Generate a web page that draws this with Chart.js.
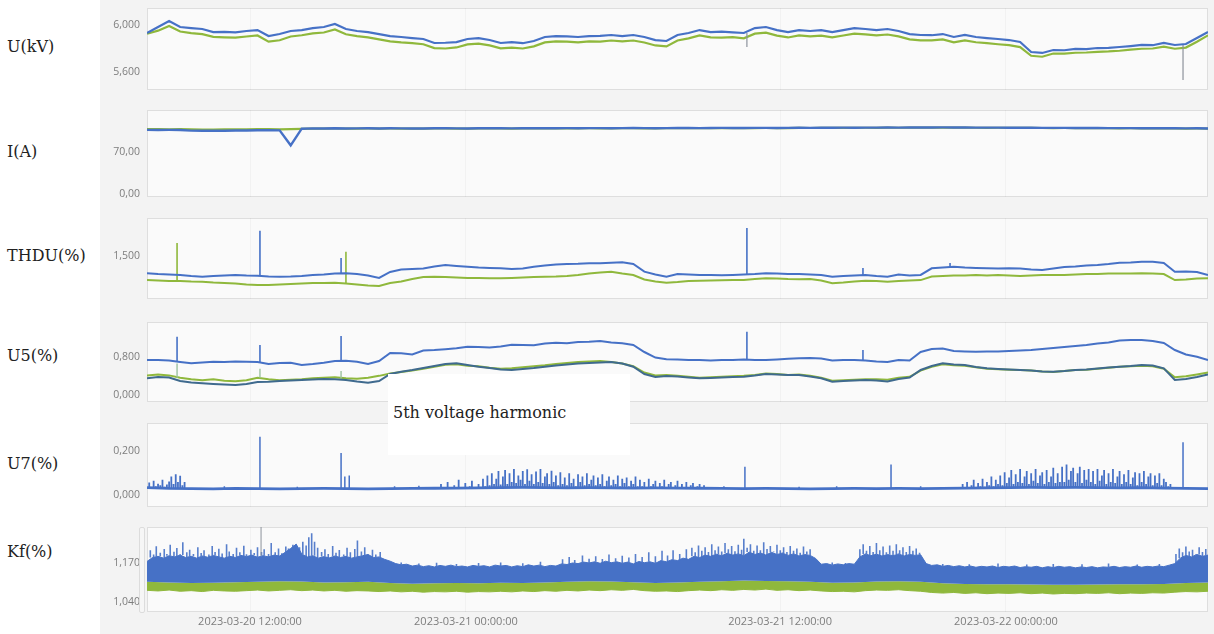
<!DOCTYPE html>
<html>
<head>
<meta charset="utf-8">
<script src="https://cdn.jsdelivr.net/npm/chart.js@4.4.1/dist/chart.umd.min.js"></script>
<style>
  html, body { margin: 0; padding: 0; background: #fff; }
  #wrap { position: relative; width: 1214px; height: 634px; overflow: hidden; background: #fff; }
  #board { position: absolute; left: 100px; top: 0; width: 1114px; height: 634px; background: #f3f3f3; }
  #wrap canvas { position: absolute; left: 100px; }
  .lbl { position: absolute; left: 7px; font-family: "DejaVu Serif", serif; font-size: 16px; line-height: 20px; color: #222; white-space: nowrap; }
  #note { position: absolute; left: 388px; top: 374px; width: 242px; height: 81px; background: #fff; z-index: 5; }
  #note span { position: absolute; left: 5px; top: 29px; font-family: "DejaVu Serif", serif; font-size: 16px; line-height: 20px; color: #222; white-space: nowrap; }
  #slider { position: absolute; left: 139px; top: 527px; width: 4px; height: 84px; border: 1px solid #dcdcdc; background: #f6f6f6; border-radius: 2px; z-index: 4; }
</style>
</head>
<body>
<div id="wrap">
  <div id="board"></div>
  <canvas id="cU"></canvas>
  <canvas id="cI"></canvas>
  <canvas id="cTHDU"></canvas>
  <canvas id="cU5"></canvas>
  <canvas id="cU7"></canvas>
  <canvas id="cKf"></canvas>
  <div id="slider"></div>
  <div class="lbl" style="top:37px">U(kV)</div>
  <div class="lbl" style="top:142px">I(A)</div>
  <div class="lbl" style="top:246px">THDU(%)</div>
  <div class="lbl" style="top:346px">U5(%)</div>
  <div class="lbl" style="top:454px">U7(%)</div>
  <div class="lbl" style="top:542px">Kf(%)</div>
  <div id="note"><span>5th voltage harmonic</span></div>
</div>
<script>
// ---- record axis: 48 half-hour blocks, labelled at the recorded timestamps ----
const spanUnits = 48;
const tickAt = [4.66, 14.43, 28.64, 38.86];
const tickLabels = ['2023-03-20 12:00:00', '2023-03-21 00:00:00', '2023-03-21 12:00:00', '2023-03-22 00:00:00'];

// ---- U(kV) ----
const uBlue = [5.932,5.983,6.034,5.983,5.974,5.966,5.940,5.942,5.938,5.949,
  5.957,5.906,5.923,5.949,5.957,5.974,5.983,6.009,5.966,5.949,
  5.940,5.923,5.906,5.898,5.889,5.881,5.847,5.849,5.855,5.881,
  5.889,5.872,5.847,5.855,5.845,5.864,5.898,5.906,5.904,5.898,
  5.906,5.908,5.915,5.906,5.915,5.898,5.872,5.864,5.915,5.932,
  5.957,5.940,5.943,5.938,5.932,5.974,5.983,5.957,5.940,5.957,
  5.949,5.957,5.940,5.957,5.974,5.966,5.957,5.966,5.949,5.923,
  5.915,5.913,5.923,5.898,5.915,5.898,5.889,5.881,5.872,5.855,
  5.770,5.762,5.787,5.785,5.796,5.794,5.804,5.806,5.813,5.821,
  5.830,5.828,5.847,5.830,5.838,5.889,5.940];
const uGreen = [5.925,5.952,5.992,5.945,5.931,5.922,5.899,5.895,5.893,5.902,
  5.911,5.858,5.870,5.902,5.913,5.929,5.936,5.962,5.921,5.905,
  5.894,5.878,5.861,5.852,5.846,5.836,5.803,5.800,5.809,5.835,
  5.842,5.827,5.801,5.808,5.800,5.818,5.852,5.861,5.859,5.852,
  5.860,5.858,5.868,5.861,5.868,5.851,5.826,5.818,5.868,5.886,
  5.911,5.895,5.893,5.896,5.887,5.926,5.935,5.910,5.894,5.912,
  5.903,5.910,5.894,5.911,5.927,5.920,5.912,5.919,5.903,5.878,
  5.870,5.869,5.878,5.852,5.869,5.853,5.845,5.836,5.828,5.812,
  5.738,5.730,5.757,5.756,5.764,5.766,5.772,5.775,5.781,5.790,
  5.798,5.800,5.815,5.798,5.808,5.858,5.912];
const uDips = [[27.14, 5.813], [46.87, 5.532]];

// ---- I(A) ----
const iBlue = [105.9,105.7,105.8,105.6,104.6,104.3,104.5,104.4,104.7,104.9,
  105.2,105.4,105.0,80.5,107.8,108.3,108.1,108.4,108.2,108.3,
  108.5,108.2,108.4,108.3,108.1,108.2,108.4,108.5,108.3,108.2,
  108.4,108.6,108.4,108.3,108.5,108.4,108.6,108.5,108.7,108.6,
  108.8,108.7,108.6,108.8,108.9,108.7,108.6,108.8,108.9,109.0,
  108.8,108.9,109.1,109.0,108.9,109.1,109.2,109.0,109.1,109.3,
  109.2,109.4,109.3,109.5,109.4,109.6,109.5,109.7,109.6,109.8,
  109.7,109.8,109.9,109.7,109.8,109.6,109.5,109.6,109.4,109.3,
  109.4,109.2,109.1,109.2,109.0,108.9,109.0,108.8,108.7,108.8,
  108.6,108.5,108.6,108.4,108.3,108.4,108.2];
const iGreen = [107.0,107.1,106.9,107.0,106.6,106.4,106.5,106.6,106.8,106.9,
  107.0,107.1,106.8,107.0,107.6,108.0,107.9,108.1,107.9,108.0,
  108.2,108.0,108.1,108.0,107.9,108.0,108.1,108.2,108.0,108.0,
  108.1,108.3,108.1,108.0,108.2,108.1,108.3,108.2,108.4,108.3,
  108.5,108.4,108.3,108.5,108.6,108.4,108.3,108.5,108.6,108.7,
  108.5,108.6,108.8,108.7,108.6,108.8,108.9,108.7,108.8,109.0,
  108.9,109.1,109.0,109.2,109.1,109.3,109.2,109.4,109.3,109.5,
  109.4,109.5,109.6,109.4,109.5,109.3,109.2,109.3,109.1,109.0,
  109.1,108.9,108.8,108.9,108.7,108.6,108.7,108.5,108.4,108.5,
  108.3,108.2,108.3,108.1,108.0,108.1,107.9];

// ---- THDU(%) ----
const thduBlue = [1.284,1.274,1.270,1.263,1.250,1.242,1.250,1.256,1.263,1.256,
  1.253,1.243,1.242,1.243,1.250,1.263,1.270,1.281,1.284,1.274,
  1.256,1.225,1.301,1.332,1.338,1.343,1.369,1.387,1.376,1.366,
  1.356,1.350,1.346,1.338,1.343,1.366,1.381,1.394,1.400,1.402,
  1.408,1.408,1.415,1.421,1.400,1.304,1.270,1.242,1.274,1.270,
  1.263,1.263,1.258,1.263,1.270,1.274,1.284,1.281,1.274,1.274,
  1.270,1.263,1.242,1.250,1.256,1.263,1.250,1.242,1.270,1.256,
  1.263,1.346,1.356,1.366,1.356,1.350,1.346,1.343,1.346,1.343,
  1.332,1.325,1.343,1.363,1.369,1.381,1.387,1.400,1.417,1.418,
  1.428,1.428,1.413,1.304,1.306,1.301,1.263];
const thduGreen = [1.199,1.194,1.188,1.188,1.181,1.178,1.168,1.162,1.157,1.144,
  1.137,1.137,1.144,1.150,1.157,1.162,1.162,1.167,1.157,1.144,
  1.131,1.126,1.162,1.181,1.212,1.237,1.242,1.237,1.232,1.225,
  1.225,1.221,1.221,1.225,1.232,1.237,1.242,1.243,1.250,1.263,
  1.281,1.294,1.304,1.281,1.263,1.206,1.181,1.167,1.175,1.188,
  1.191,1.194,1.198,1.199,1.199,1.212,1.221,1.219,1.212,1.209,
  1.212,1.194,1.159,1.168,1.181,1.191,1.188,1.178,1.188,1.194,
  1.199,1.243,1.250,1.256,1.256,1.263,1.256,1.263,1.256,1.250,
  1.256,1.263,1.263,1.263,1.270,1.274,1.274,1.281,1.281,1.281,
  1.284,1.281,1.274,1.199,1.206,1.219,1.221];
const thduBlueSpikes = [[5.11, 1.817], [8.78, 1.475], [27.14, 1.849], [32.39, 1.349], [36.33, 1.413]];
const thduGreenSpikes = [[1.36, 1.663], [9.0, 1.554]];

// ---- U5(%) ----
const u5Blue = [0.731,0.731,0.721,0.689,0.662,0.679,0.696,0.689,0.700,0.696,
  0.689,0.648,0.668,0.675,0.627,0.648,0.675,0.710,0.716,0.696,
  0.648,0.710,0.877,0.871,0.846,0.930,0.940,0.958,0.975,1.010,
  1.003,0.990,1.013,1.050,1.044,1.040,1.076,1.092,1.080,1.107,
  1.113,1.128,1.097,1.080,1.044,0.898,0.783,0.746,0.742,0.731,
  0.731,0.721,0.731,0.731,0.742,0.731,0.731,0.742,0.758,0.767,
  0.773,0.762,0.721,0.731,0.731,0.721,0.700,0.689,0.731,0.721,
  0.898,0.961,0.971,0.919,0.909,0.904,0.909,0.909,0.919,0.930,
  0.940,0.961,0.982,1.003,1.024,1.044,1.076,1.097,1.138,1.149,
  1.149,1.128,1.086,0.940,0.846,0.800,0.731];
const u5Dark = [0.349,0.376,0.365,0.292,0.261,0.244,0.230,0.219,0.209,0.230,
  0.271,0.278,0.292,0.303,0.313,0.324,0.334,0.328,0.313,0.282,
  0.257,0.292,0.439,0.487,0.522,0.564,0.606,0.648,0.662,0.627,
  0.591,0.564,0.533,0.522,0.543,0.564,0.591,0.616,0.637,0.658,
  0.668,0.679,0.689,0.658,0.591,0.439,0.376,0.397,0.386,0.365,
  0.349,0.355,0.365,0.376,0.382,0.407,0.439,0.428,0.418,0.418,
  0.386,0.349,0.278,0.292,0.303,0.313,0.303,0.282,0.334,0.365,
  0.522,0.606,0.662,0.637,0.627,0.585,0.558,0.543,0.533,0.522,
  0.512,0.491,0.487,0.501,0.522,0.533,0.554,0.574,0.591,0.606,
  0.627,0.616,0.558,0.313,0.334,0.376,0.428];
const u5Green = [0.41,0.43,0.41,0.36,0.33,0.31,0.33,0.30,0.29,0.31,
  0.36,0.33,0.31,0.32,0.33,0.35,0.36,0.37,0.35,0.34,
  0.36,0.40,0.45,0.48,0.51,0.55,0.59,0.63,0.64,0.61,
  0.60,0.57,0.55,0.56,0.58,0.60,0.62,0.65,0.67,0.69,
  0.70,0.71,0.69,0.66,0.60,0.47,0.41,0.42,0.40,0.38,
  0.36,0.37,0.38,0.39,0.40,0.42,0.45,0.44,0.42,0.43,
  0.40,0.36,0.30,0.31,0.32,0.33,0.33,0.32,0.36,0.38,
  0.51,0.59,0.64,0.62,0.61,0.58,0.55,0.54,0.53,0.52,
  0.51,0.49,0.48,0.50,0.52,0.53,0.55,0.57,0.59,0.60,
  0.61,0.60,0.55,0.37,0.39,0.43,0.47];
const u5BlueSpikes = [[1.36, 1.218], [5.11, 1.044], [8.78, 1.232], [27.14, 1.322], [32.39, 0.94]];
const u5LowSpikes = [[1.36, 0.66], [5.11, 0.55], [8.78, 0.50]];

// ---- U7(%): hourly level, isolated peaks, and 0.1-block burst records ----
const u7Base = [0.034,0.030,0.029,0.028,0.030,0.029,0.028,0.029,0.030,0.029,
  0.028,0.029,0.030,0.031,0.032,0.033,0.034,0.035,0.034,0.033,
  0.034,0.033,0.032,0.033,0.032,0.031,0.030,0.029,0.030,0.029,
  0.028,0.029,0.030,0.029,0.030,0.029,0.030,0.032,0.033,0.034,
  0.035,0.034,0.035,0.034,0.033,0.034,0.032,0.030,0.029];
const u7Peaks = [[3.5,0.04],[5.11,0.268],[6.8,0.038],[8.78,0.193],[8.95,0.085],[9.15,0.09],[11.2,0.04],
  [12.3,0.042],[26.1,0.04],[27.05,0.13],[29.5,0.038],[31.2,0.04],[33.66,0.14],[35.0,0.04],[46.87,0.242]];
const u7BurstStart = [0.0, 13.2, 36.8];
const u7BurstA = [0.034,0.058,0.036,0.066,0.04,0.052,0.045,0.07,0.038,0.048,0.062,0.085,0.05,0.095,0.06,0.088,0.045,0.06,0.032];
const u7BurstB = [0.032,0.05,0.034,0.032,0.06,0.035,0.033,0.045,0.032,0.07,0.036,0.034,0.055,0.033,0.04,0.065,0.035,0.033,0.05,0.036,0.075,0.04,
  0.09,0.045,0.1,0.05,0.075,0.11,0.048,0.085,0.115,0.05,0.1,0.06,0.12,0.055,0.09,0.07,0.11,0.05,0.118,0.065,0.095,0.05,0.108,0.06,0.12,0.055,0.085,0.1,0.05,0.112,0.06,0.09,0.045,0.105,
  0.05,0.08,0.045,0.1,0.055,0.075,0.04,0.095,0.06,0.085,0.045,0.1,0.05,0.07,0.09,0.045,0.08,0.05,0.095,0.04,0.065,0.085,0.045,0.07,0.05,0.09,0.04,0.075,0.055,0.08,0.04,0.065,0.05,0.085,0.04,0.07,
  0.04,0.06,0.035,0.075,0.04,0.05,0.065,0.035,0.055,0.04,0.07,0.035,0.05,0.06,0.034,0.045,0.065,0.035,0.05,0.033,0.06,0.035,0.045,0.055,0.033,0.04,0.05,0.033,0.045,0.032,0.031];
const u7BurstC = [0.032,0.05,0.034,0.06,0.035,0.045,0.07,0.036,0.055,0.04,0.075,0.038,0.06,0.045,0.085,0.04,0.07,0.05,
  0.09,0.045,0.105,0.055,0.08,0.115,0.05,0.095,0.06,0.12,0.055,0.085,0.11,0.05,0.1,0.065,0.12,0.055,0.09,0.105,0.05,0.115,0.06,0.085,0.125,0.055,0.1,0.06,
  0.13,0.06,0.14,0.07,0.11,0.125,0.06,0.1,0.13,0.055,0.115,0.07,0.12,0.06,
  0.11,0.05,0.12,0.065,0.09,0.115,0.05,0.1,0.06,0.12,0.055,0.085,0.11,0.05,0.095,0.06,0.115,0.05,0.08,0.105,0.045,0.1,0.06,0.11,0.05,0.085,0.1,0.045,0.09,0.055,0.1,0.045,0.075,0.06,0.04,0.05,0.033];

// ---- Kf(%): 15-min band top, hourly band bottom, 30-min green floor, short peaks ----
const kfBlueHigh = [1.175,1.188,1.192,1.186,1.194,1.190,1.196,1.188,1.192,1.186,
  1.193,1.189,1.195,1.190,1.186,1.192,1.188,1.195,1.191,1.196,
  1.189,1.194,1.190,1.196,1.193,1.205,1.218,1.232,1.200,1.190,
  1.194,1.186,1.191,1.187,1.193,1.188,1.192,1.186,1.190,1.194,
  1.198,1.188,1.190,1.182,1.176,1.168,1.164,1.166,1.160,1.163,
  1.158,1.161,1.157,1.162,1.159,1.163,1.158,1.160,1.157,1.162,
  1.159,1.161,1.157,1.163,1.160,1.162,1.157,1.161,1.158,1.164,
  1.160,1.163,1.158,1.162,1.160,1.167,1.165,1.170,1.168,1.173,
  1.170,1.174,1.169,1.176,1.171,1.174,1.169,1.173,1.167,1.175,
  1.171,1.174,1.169,1.178,1.174,1.181,1.178,1.186,1.182,1.192,
  1.188,1.196,1.192,1.199,1.194,1.202,1.196,1.200,1.194,1.206,
  1.198,1.203,1.196,1.205,1.198,1.203,1.195,1.200,1.193,1.198,
  1.195,1.185,1.166,1.168,1.163,1.167,1.164,1.168,1.166,1.190,
  1.200,1.194,1.199,1.193,1.198,1.194,1.200,1.193,1.198,1.195,
  1.197,1.168,1.162,1.164,1.159,1.162,1.158,1.161,1.157,1.160,
  1.156,1.159,1.157,1.160,1.155,1.159,1.157,1.160,1.155,1.158,
  1.156,1.159,1.154,1.158,1.155,1.159,1.156,1.158,1.154,1.157,
  1.155,1.158,1.154,1.157,1.156,1.159,1.155,1.158,1.156,1.160,
  1.156,1.159,1.157,1.160,1.158,1.163,1.168,1.186,1.195,1.190,
  1.198,1.192,1.196];
const kfBlueLow = [1.108,1.106,1.104,1.105,1.107,1.108,1.110,1.109,1.106,1.107,
  1.108,1.104,1.102,1.103,1.104,1.103,1.105,1.104,1.106,1.108,
  1.110,1.109,1.107,1.104,1.106,1.108,1.110,1.112,1.111,1.110,
  1.108,1.105,1.106,1.109,1.110,1.108,1.103,1.101,1.100,1.100,
  1.099,1.098,1.098,1.099,1.100,1.100,1.101,1.104,1.106];
const kfGreenLow = [1.080,1.078,1.081,1.077,1.079,1.076,1.080,1.078,1.077,1.079,
  1.081,1.078,1.080,1.082,1.079,1.081,1.078,1.080,1.077,1.079,
  1.078,1.076,1.078,1.075,1.077,1.074,1.076,1.075,1.077,1.074,
  1.076,1.075,1.077,1.075,1.078,1.076,1.079,1.077,1.080,1.078,
  1.081,1.079,1.082,1.080,1.083,1.079,1.077,1.078,1.076,1.079,
  1.081,1.079,1.082,1.080,1.083,1.081,1.084,1.080,1.082,1.079,
  1.081,1.078,1.076,1.077,1.075,1.079,1.081,1.080,1.082,1.079,
  1.077,1.073,1.071,1.073,1.070,1.072,1.069,1.071,1.070,1.072,
  1.069,1.071,1.068,1.070,1.069,1.071,1.070,1.072,1.069,1.071,
  1.070,1.072,1.071,1.074,1.076,1.075,1.077];
const kfPeaks = [
  [0.15,1.212],[0.3,1.198],[0.42,1.225],[0.6,1.204],[0.78,1.216],[0.9,1.2],[1.05,1.23],[1.22,1.207],[1.35,1.219],
  [1.5,1.199],[1.62,1.238],[1.8,1.205],[1.93,1.214],[2.1,1.2],[2.3,1.222],[2.45,1.203],[2.58,1.212],[2.8,1.198],
  [2.95,1.226],[3.08,1.206],[3.25,1.217],[3.4,1.201],[3.6,1.232],[3.72,1.208],[3.9,1.2],[4.05,1.22],[4.2,1.205],
  [4.38,1.227],[4.5,1.199],[4.7,1.214],[4.85,1.203],[5.0,1.222],[5.18,1.206],[5.3,1.215],[5.5,1.2],[5.62,1.236],
  [5.8,1.205],[5.95,1.218],[6.1,1.202],[6.28,1.224],[6.4,1.207],[6.6,1.23],[6.75,1.21],[6.9,1.222],[7.05,1.24],
  [7.2,1.228],[7.32,1.255],[7.45,1.268],[7.58,1.24],[7.72,1.22],[7.9,1.206],[8.05,1.215],[8.2,1.2],[8.4,1.226],
  [8.55,1.204],[8.7,1.213],[8.9,1.198],[9.05,1.22],[9.2,1.205],[9.4,1.216],[9.52,1.244],[9.7,1.208],[9.85,1.222],
  [10.0,1.2],[10.2,1.214],[10.35,1.198],[10.55,1.206],
  [11.5,1.172],[12.3,1.168],[13.1,1.171],[14.0,1.167],[15.0,1.17],[16.0,1.172],[17.0,1.169],[17.8,1.174],
  [18.8,1.182],[19.1,1.19],[19.35,1.18],[19.7,1.195],[20.0,1.184],[20.3,1.192],[20.6,1.183],[20.9,1.198],
  [21.2,1.186],[21.5,1.194],[21.8,1.188],[22.1,1.2],[22.4,1.19],[22.7,1.205],[23.0,1.192],[23.3,1.21],
  [23.55,1.195],[23.8,1.212],[24.1,1.2],[24.4,1.215],
  [24.65,1.22],[24.8,1.205],[24.95,1.228],[25.1,1.21],[25.25,1.222],[25.4,1.206],[25.55,1.232],[25.7,1.212],
  [25.85,1.224],[26.0,1.208],[26.15,1.236],[26.3,1.215],[26.45,1.226],[26.6,1.209],[26.75,1.23],[26.9,1.214],
  [27.0,1.25],[27.15,1.22],[27.3,1.232],[27.45,1.21],[27.6,1.228],[27.75,1.212],[27.9,1.238],[28.05,1.216],
  [28.2,1.226],[28.35,1.208],[28.5,1.23],[28.65,1.212],[28.8,1.222],[28.95,1.206],[29.1,1.226],[29.25,1.21],
  [29.4,1.218],[29.55,1.204],[29.7,1.224],[29.85,1.208],[30.0,1.215],
  [31.0,1.172],[31.6,1.17],
  [32.25,1.215],[32.4,1.232],[32.55,1.21],[32.7,1.226],[32.85,1.206],[33.0,1.236],[33.15,1.212],[33.3,1.224],
  [33.45,1.205],[33.6,1.228],[33.75,1.21],[33.9,1.232],[34.05,1.212],[34.2,1.222],[34.35,1.206],[34.5,1.226],
  [34.65,1.21],[34.8,1.218],[34.95,1.204],
  [36.0,1.167],[37.2,1.166],[38.5,1.168],[39.8,1.165],[41.0,1.167],[42.3,1.166],[43.5,1.168],[44.8,1.165],[45.8,1.167],
  [46.55,1.2],[46.7,1.218],[46.85,1.205],[47.0,1.224],[47.15,1.208],[47.3,1.214],[47.45,1.2],[47.6,1.222],
  [47.75,1.206],[47.9,1.216]];
const kfMarks = [[5.16, 1.30]];

// ---- helpers ----
function series(values) {
  const step = spanUnits / (values.length - 1);
  return values.map((v, i) => ({ x: i * step, y: v }));
}
function valueAt(values, h) {
  const step = spanUnits / (values.length - 1);
  return values[Math.min(values.length - 1, Math.max(0, Math.round(h / step)))];
}
// vertical strokes from the running level of a series to each peak value
function strokes(list, base) {
  const pts = [];
  list.forEach(([h, v]) => {
    const b = valueAt(base, h);
    pts.push({ x: h, y: b }, { x: h, y: v }, { x: h, y: null });
  });
  return pts;
}
// burst records sampled every 0.1 block, each drawn as a stroke from the level
function burstStrokes(values, start, base) {
  return strokes(values.map((v, i) => [start + i * 0.1, v]), base);
}
const comma = (v, d) => v.toFixed(d).replace('.', ',');

const BLUE = '#4671c6';
const GREEN = '#8fb83c';
const DARK = '#3f6a8e';
const GREY = '#8d939c';

function line(data, color, width, extra) {
  return Object.assign({ data, borderColor: color, backgroundColor: color, borderWidth: width,
    pointRadius: 0, tension: 0, fill: false, spanGaps: false }, extra || {});
}

const panelFrame = {
  id: 'panelFrame',
  beforeDraw(chart) {
    const { ctx, chartArea: a } = chart;
    ctx.save();
    ctx.fillStyle = '#fafafa';
    ctx.fillRect(a.left, a.top, a.width, a.height);
    ctx.strokeStyle = '#dedede';
    ctx.lineWidth = 1;
    ctx.strokeRect(a.left + 0.5, a.top + 0.5, a.width - 1, a.height - 1);
    ctx.restore();
  }
};

function makePanel(id, top, height, yMin, yMax, yTicks, decimals, datasets, bottom) {
  const cv = document.getElementById(id);
  cv.width = 1114; cv.height = height; cv.style.top = top + 'px';
  return new Chart(cv, {
    type: 'line',
    data: { datasets },
    plugins: [panelFrame],
    options: {
      responsive: false, animation: false, devicePixelRatio: 1,
      layout: { padding: { top: 8, bottom: bottom ? 0 : 8, left: 0, right: 6 } },
      plugins: { legend: { display: false }, tooltip: { enabled: false } },
      scales: {
        x: {
          type: 'linear', min: 0, max: spanUnits,
          afterBuildTicks: s => { s.ticks = tickAt.map(v => ({ value: v })); },
          afterFit: s => { s.height = bottom ? 22 : 0; s.paddingLeft = 0; s.paddingRight = 0; },
          grid: { color: 'rgba(0,0,0,0.03)', drawTicks: false },
          border: { display: false },
          ticks: { display: bottom, autoSkip: false, maxRotation: 0, padding: 3, color: '#7d7d7d',
            font: { family: 'Open Sans', size: 11 }, callback: (v, i) => tickLabels[i] }
        },
        y: {
          min: yMin, max: yMax,
          afterBuildTicks: s => { s.ticks = yTicks.map(v => ({ value: v })); },
          afterFit: s => { s.width = 47; s.paddingTop = 0; s.paddingBottom = 0; },
          grid: { display: false, drawTicks: false },
          border: { display: false },
          ticks: { padding: 7, color: '#7d7d7d', font: { family: 'Open Sans', size: 10.5 },
            callback: v => comma(v, decimals) }
        }
      }
    }
  });
}

function build() {
  makePanel('cU', 0, 98, 5.4468, 6.1447, [5.6, 6.0], 3, [
    line(series(uBlue), BLUE, 2.2),
    line(strokes(uDips, uBlue), GREY, 1.2),
    line(series(uGreen), GREEN, 2.2)
  ]);
  makePanel('cI', 102, 103, -4.44, 138.5, [0, 70], 2, [
    line(series(iBlue), BLUE, 2.4),
    line(series(iGreen), GREEN, 2.2)
  ]);
  makePanel('cTHDU', 210, 97, 0.9625, 1.975, [1.5], 3, [
    line(strokes(thduBlueSpikes, thduBlue), BLUE, 1.6),
    line(series(thduBlue), BLUE, 2),
    line(strokes(thduGreenSpikes, thduGreen), GREEN, 1.6),
    line(series(thduGreen), GREEN, 2)
  ]);
  makePanel('cU5', 314, 96, -0.146, 1.525, [0, 0.8], 3, [
    line(strokes(u5BlueSpikes, u5Blue), BLUE, 1.6),
    line(series(u5Blue), BLUE, 2),
    line(strokes(u5LowSpikes, u5Green), '#9cc2a0', 1.4),
    line(series(u5Dark), DARK, 2),
    line(series(u5Green), GREEN, 2)
  ]);
  makePanel('cU7', 415, 100, -0.0552, 0.331, [0, 0.2], 3, [
    line(strokes(u7Peaks, u7Base), BLUE, 1.5),
    line(burstStrokes(u7BurstA, u7BurstStart[0], u7Base), BLUE, 1.8),
    line(burstStrokes(u7BurstB, u7BurstStart[1], u7Base), BLUE, 1.8),
    line(burstStrokes(u7BurstC, u7BurstStart[2], u7Base), BLUE, 1.8),
    line(series(u7Base), BLUE, 2.8)
  ]);
  makePanel('cKf', 519, 115, 1.0087, 1.2885, [1.04, 1.17], 3, [
    line(strokes(kfMarks, kfBlueHigh), GREY, 1),
    line(strokes(kfPeaks, kfBlueHigh), 'rgba(70,113,198,0.9)', 1.6),
    line(series(kfBlueHigh), BLUE, 1, { fill: { target: 4 }, backgroundColor: BLUE }),
    line(series(kfGreenLow), GREEN, 1, { fill: { target: 4 }, backgroundColor: GREEN }),
    line(series(kfBlueLow), 'transparent', 1)
  ], true);
}

if (document.fonts && document.fonts.load) {
  Promise.all([document.fonts.load('11px "Open Sans"'), document.fonts.load('16px "DejaVu Serif"')])
    .then(build, build);
} else {
  build();
}
</script>
</body>
</html>
